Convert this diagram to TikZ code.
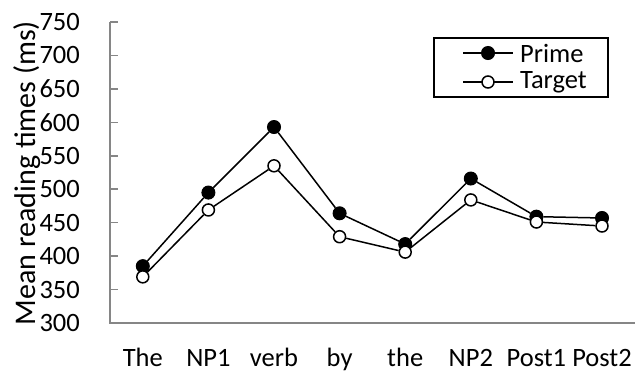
\documentclass[tikz,border=0pt]{standalone}
\usepackage{fontspec}
\setmainfont{Carlito}
\usetikzlibrary{positioning}
\definecolor{axisgray}{RGB}{134,134,134}

\tikzset{
  axisline/.style={draw=axisgray, line width=1.5pt},
  series/.style={draw=black, line width=1.5pt},
  prime/.style={circle, fill=black, draw=black, line width=1pt, minimum size=13pt, inner sep=0pt},
  target/.style={circle, fill=white, draw=black, line width=1.5pt, minimum size=12pt, inner sep=0pt},
  ticklabel/.style={anchor=east, inner sep=0pt, font=\fontsize{26.5}{30}\selectfont},
  catlabel/.style={anchor=base, inner sep=0pt, font=\fontsize{26.5}{30}\selectfont},
  legendtext/.style={inner sep=0pt, font=\fontsize{26.5}{30}\selectfont},
}

\begin{document}
\begin{tikzpicture}[x=1pt, y=-1pt]
\useasboundingbox (0,0) rectangle (636,376);

% axes
\coordinate (origin) at (110,323);
\coordinate (ytop) at (110,22);
\coordinate (xend) at (635,323);
\draw[axisline] (ytop) -- (origin) -- (xend);
\foreach \v in {300,350,...,750} {
  \coordinate (t\v) at (110,{323-(\v-300)*0.6689});
  \draw[axisline] (t\v) -- ++(8,0);
  \node[ticklabel] at ([xshift=-30pt]t\v) {\v};
}
\node[rotate=90, inner sep=0pt, font=\fontsize{30}{34}\selectfont] (ytitle) at (27,173) {Mean reading times (ms)};

% categories
\foreach \w [count=\i] in {The,NP1,verb,by,the,NP2,Post1,Post2}
  \node[catlabel] (c\i) at ({110+65.6*(\i-0.5)},366) {\w};

% data
\foreach \v [count=\i] in {385,495,593,464,418,516,459,457}
  \node[prime] (p\i) at ({110+65.6*(\i-0.5)},{323-(\v-300)*0.6689}) {};
\foreach \v [count=\i] in {369,469,535,429,406,484,451,445}
  \node[target] (q\i) at ({110+65.6*(\i-0.5)},{323-(\v-300)*0.6689}) {};
\foreach \i [count=\j from 2] in {1,...,7} {
  \draw[series] (p\i) -- (p\j);
  \draw[series] (q\i) -- (q\j);
}

% legend
\node[draw=black, line width=1.2pt, minimum width=174pt, minimum height=59pt] (legend) at (521,67.5) {};
\coordinate (lpa) at (463,53);
\coordinate (lpb) at (513,53);
\coordinate (lqa) at (463,82);
\coordinate (lqb) at (513,82);
\draw[series] (lpa) -- (lpb);
\draw[series] (lqa) -- (lqb);
\node[prime] (lp) at (488,53) {};
\node[target] (lq) at (488,82) {};
\node[legendtext, right=7pt of lpb] {Prime};
\node[legendtext, right=7pt of lqb] {Target};
\end{tikzpicture}
\end{document}
